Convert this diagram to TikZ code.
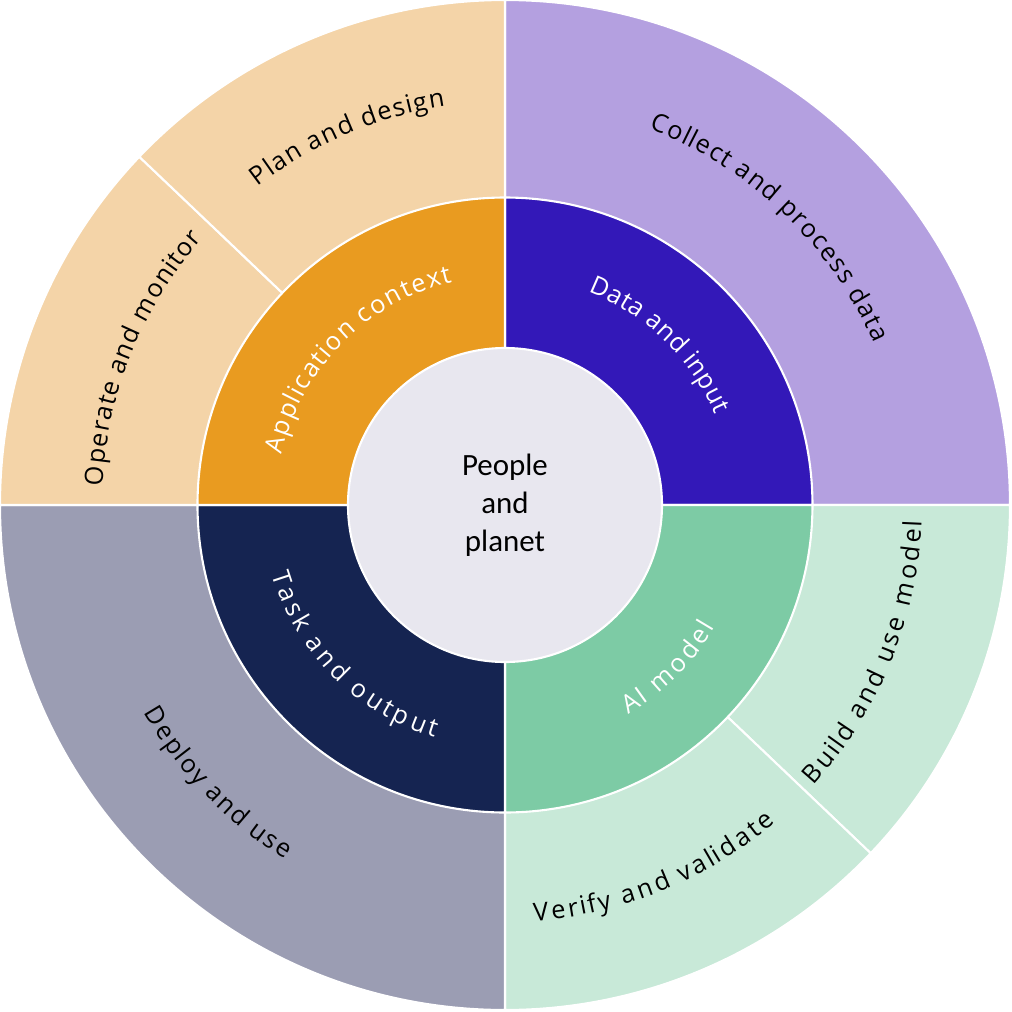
\documentclass[tikz,border=0pt]{standalone}
\usepackage{fontspec}
\setsansfont{Open Sans}
\newfontfamily\ringfont{Open Sans}
\newfontfamily\corefont{Carlito}
\usetikzlibrary{decorations.text}

\definecolor{coreGray}{HTML}{E8E7EF}
\definecolor{dataDark}{HTML}{3318B8}
\definecolor{dataLight}{HTML}{B4A0E0}
\definecolor{modelDark}{HTML}{7DCBA5}
\definecolor{modelLight}{HTML}{C8E9D8}
\definecolor{taskDark}{HTML}{152451}
\definecolor{taskLight}{HTML}{9B9DB3}
\definecolor{appDark}{HTML}{E99B20}
\definecolor{appLight}{HTML}{F4D4A8}

\begin{document}
\begin{tikzpicture}[
	wedge/.style={draw=white, line width=0.6pt, fill=#1},
	ringlabel/.style 2 args={decorate,
		decoration={text effects along path, text={#1},
			text effects/.cd, text along path, fit text to path,
			characters={text=#2, font=\ringfont\fontsize{7.2}{8}\selectfont, inner sep=0pt},
			character widths={font=\ringfont\fontsize{7.2}{8}\selectfont, inner xsep=0pt}}}
	]
	
	\useasboundingbox (-5.05,-5.07) rectangle (5.07,5.05);
	
	% --- outer ring: stages ---
	\draw[wedge=dataLight] (0,0) -- (90:5.05) arc[start angle=90, end angle=0, radius=5.05] -- cycle;
	\draw[wedge=modelLight] (0,0) -- (0:5.05) arc[start angle=0, end angle=-43.6, radius=5.05] -- cycle;
	\draw[wedge=modelLight] (0,0) -- (-43.6:5.05) arc[start angle=-43.6, end angle=-90, radius=5.05] -- cycle;
	\draw[wedge=taskLight] (0,0) -- (270:5.05) arc[start angle=270, end angle=180, radius=5.05] -- cycle;
	\draw[wedge=appLight] (0,0) -- (180:5.05) arc[start angle=180, end angle=136.4, radius=5.05] -- cycle;
	\draw[wedge=appLight] (0,0) -- (136.4:5.05) arc[start angle=136.4, end angle=90, radius=5.05] -- cycle;
	
	% --- middle ring: dimensions ---
	\draw[wedge=dataDark] (0,0) -- (90:3.075) arc[start angle=90, end angle=0, radius=3.075] -- cycle;
	\draw[wedge=modelDark] (0,0) -- (0:3.075) arc[start angle=0, end angle=-90, radius=3.075] -- cycle;
	\draw[wedge=taskDark] (0,0) -- (270:3.075) arc[start angle=270, end angle=180, radius=3.075] -- cycle;
	\draw[wedge=appDark] (0,0) -- (180:3.075) arc[start angle=180, end angle=90, radius=3.075] -- cycle;
	
	% --- core ---
	\node[circle, minimum size=3.14cm, inner sep=0pt, fill=coreGray, draw=white, line width=0.6pt,
	align=center, font=\corefont\fontsize{8.8}{10.8}\selectfont] (core) at (0,0) {People\\and\\planet};
	
	% labels, upper half (read clockwise)
	\path[ringlabel={Collect and process data}{black}] (69.1:4.03) arc[start angle=69.1, end angle=23.6, radius=4.03];
	\path[ringlabel={Plan and design}{black}] (127.8:4.03) arc[start angle=127.8, end angle=98.5, radius=4.03];
	\path[ringlabel={Operate and monitor}{black}] (177.3:4.03) arc[start angle=177.3, end angle=138.6, radius=4.03];
	\path[ringlabel={Data and input}{white}] (68.7:2.29) arc[start angle=68.7, end angle=23.3, radius=2.29];
	\path[ringlabel={Application context}{white}] (167.3:2.29) arc[start angle=167.3, end angle=103.3, radius=2.29];
	
	% labels, lower half (read counterclockwise)
	\path[ringlabel={Deploy and use}{black}] (209.9:4.17) arc[start angle=209.9, end angle=238.2, radius=4.17];
	\path[ringlabel={Verify and validate}{black}] (-86:4.17) arc[start angle=-86, end angle=-49.6, radius=4.17];
	\path[ringlabel={Build and use model}{black}] (-42.3:4.17) arc[start angle=-42.3, end angle=-2.2, radius=4.17];
	\path[ringlabel={Task and output}{white}] (196.5:2.43) arc[start angle=196.5, end angle=253.2, radius=2.43];
	\path[ringlabel={AI model}{white}] (-59.6:2.43) arc[start angle=-59.6, end angle=-30.2, radius=2.43];
	
\end{tikzpicture}
\end{document}
